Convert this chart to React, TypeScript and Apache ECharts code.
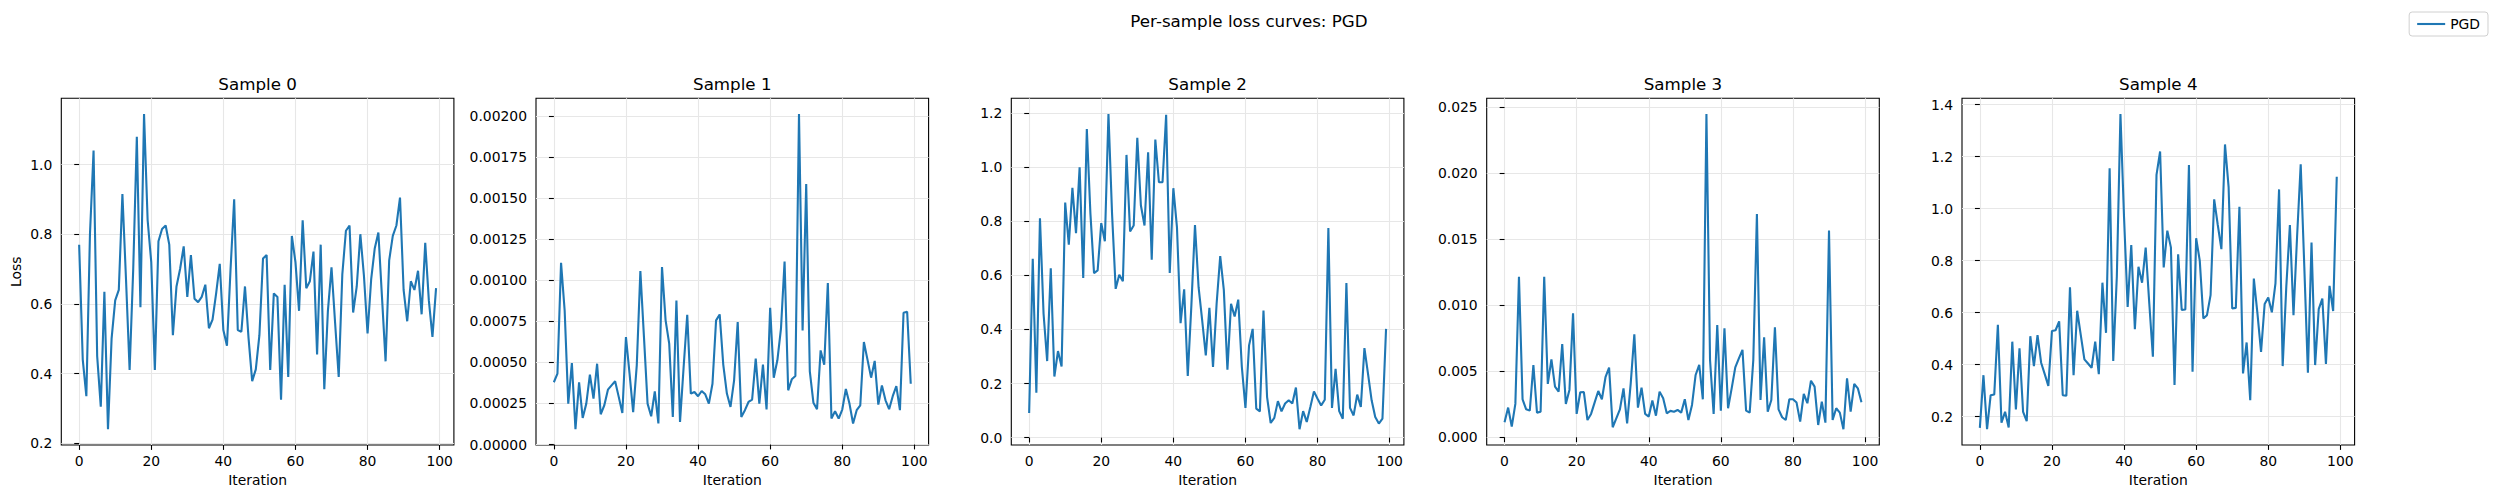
import React, { useEffect, useRef } from 'react';
import * as echarts from 'echarts';

const suptitle = 'Per-sample loss curves: PGD';
const panelTitles = ['Sample 0', 'Sample 1', 'Sample 2', 'Sample 3', 'Sample 4'];
const seriesName = 'PGD';
const xLabel = 'Iteration';
const yLabel = 'Loss';

const iterations: number[] = Array.from({ length: 100 }, (_, i) => i);
const xTicks = [0, 20, 40, 60, 80, 100];

const sample0 = [
  0.77, 0.44, 0.335, 0.80, 1.04, 0.45, 0.305, 0.635, 0.24, 0.50,
  0.61, 0.64, 0.915, 0.67, 0.41, 0.70, 1.08, 0.59, 1.145, 0.84,
  0.72, 0.41, 0.78, 0.815, 0.825, 0.77, 0.51, 0.65, 0.70, 0.765,
  0.62, 0.74, 0.615, 0.605, 0.62, 0.655, 0.53, 0.555, 0.63, 0.715,
  0.525, 0.48, 0.70, 0.90, 0.525, 0.52, 0.65, 0.50, 0.378, 0.412,
  0.51, 0.73, 0.74, 0.41, 0.63, 0.62, 0.325, 0.655, 0.39, 0.795,
  0.72, 0.58, 0.84, 0.645, 0.665, 0.75, 0.455, 0.77, 0.355, 0.58,
  0.705, 0.545, 0.39, 0.685, 0.81, 0.825, 0.575, 0.65, 0.80, 0.68,
  0.515, 0.67, 0.76, 0.805, 0.62, 0.435, 0.725, 0.795, 0.825, 0.905,
  0.64, 0.55, 0.665, 0.64, 0.695, 0.57, 0.775, 0.61, 0.505, 0.645,
];

const sample1 = [
  0.000379, 0.000432, 0.001106, 0.000816, 0.000249, 0.000496, 0.000093, 0.000379, 0.000162, 0.000249,
  0.000425, 0.00028, 0.000492, 0.000184, 0.000239, 0.000334, 0.00036, 0.000385, 0.00029, 0.000192,
  0.000654, 0.000432, 0.000197, 0.000482, 0.001056, 0.000654, 0.000249, 0.000172, 0.000324, 0.000128,
  0.00108, 0.000756, 0.000614, 0.000168, 0.000877, 0.000138, 0.000472, 0.00079, 0.00031, 0.00032,
  0.000294, 0.000326, 0.000306, 0.000249, 0.00037, 0.000756, 0.000792, 0.000485, 0.00031, 0.000229,
  0.000391, 0.000746, 0.000168, 0.000209, 0.000259, 0.000274, 0.000523, 0.000249, 0.000486, 0.000213,
  0.000833, 0.000407, 0.000513, 0.000705, 0.001114, 0.00033, 0.000397, 0.000417, 0.002012, 0.000695,
  0.001586, 0.000446, 0.000255, 0.000215, 0.000573, 0.000486, 0.000983, 0.000158, 0.000203, 0.000158,
  0.000213, 0.000338, 0.000249, 0.000128, 0.000209, 0.000239, 0.000624, 0.000517, 0.000407, 0.000509,
  0.000243, 0.00036, 0.000269, 0.000215, 0.000294, 0.000355, 0.000209, 0.000802, 0.000808, 0.00037,
];

const sample2 = [
  0.091, 0.661, 0.166, 0.811, 0.458, 0.283, 0.626, 0.226, 0.32, 0.263,
  0.869, 0.713, 0.923, 0.756, 0.999, 0.59, 1.141, 0.827, 0.608, 0.618,
  0.793, 0.726, 1.196, 0.827, 0.55, 0.602, 0.578, 1.045, 0.762, 0.784,
  1.108, 0.858, 0.784, 1.055, 0.658, 1.102, 0.944, 0.944, 1.193, 0.609,
  0.922, 0.778, 0.423, 0.548, 0.228, 0.489, 0.786, 0.556, 0.433, 0.304,
  0.48, 0.261, 0.495, 0.671, 0.546, 0.251, 0.495, 0.448, 0.51, 0.261,
  0.11, 0.341, 0.402, 0.107, 0.097, 0.47, 0.15, 0.054, 0.073, 0.135,
  0.097, 0.126, 0.138, 0.126, 0.185, 0.031, 0.098, 0.058, 0.113, 0.171,
  0.144, 0.119, 0.14, 0.775, 0.11, 0.254, 0.098, 0.07, 0.571, 0.11,
  0.082, 0.159, 0.113, 0.331, 0.236, 0.138, 0.076, 0.052, 0.07, 0.402,
];

const sample3 = [
  0.00114, 0.00225, 0.00081, 0.00253, 0.01217, 0.00288, 0.00212, 0.00202, 0.00548, 0.00187,
  0.00194, 0.01217, 0.00404, 0.00591, 0.00384, 0.00346, 0.00707, 0.00253, 0.00359, 0.00939,
  0.00177, 0.00341, 0.00343, 0.00131, 0.00177, 0.00265, 0.00351, 0.00288, 0.00455, 0.00528,
  0.00076, 0.00144, 0.00212, 0.00371, 0.00106, 0.00409, 0.0078, 0.00225, 0.00376, 0.00177,
  0.00157, 0.00278, 0.00164, 0.00346, 0.00295, 0.00182, 0.002, 0.00194, 0.00207, 0.00187,
  0.00288, 0.00131, 0.00245, 0.00472, 0.00548, 0.00288, 0.02449, 0.00586, 0.00177, 0.00851,
  0.00202, 0.00826, 0.0022, 0.00371, 0.0053, 0.00598, 0.00662, 0.00202, 0.00187, 0.00586,
  0.01692, 0.00283, 0.00758, 0.00194, 0.00283, 0.00833, 0.00212, 0.00152, 0.00131, 0.00288,
  0.00288, 0.00263, 0.00119, 0.00328, 0.00258, 0.00429, 0.00384, 0.00093, 0.0027, 0.00111,
  0.01566, 0.00131, 0.0022, 0.00187, 0.00061, 0.00447, 0.00194, 0.00404, 0.00371, 0.00265,
];

const sample4 = [
  0.156, 0.359, 0.151, 0.282, 0.285, 0.553, 0.176, 0.218, 0.158, 0.488,
  0.227, 0.462, 0.218, 0.182, 0.509, 0.394, 0.513, 0.407, 0.363, 0.318,
  0.529, 0.532, 0.566, 0.282, 0.28, 0.697, 0.359, 0.607, 0.513, 0.42,
  0.404, 0.387, 0.488, 0.363, 0.715, 0.522, 1.155, 0.414, 0.74, 1.364,
  0.966, 0.622, 0.86, 0.536, 0.776, 0.715, 0.85, 0.635, 0.43, 1.13,
  1.22, 0.774, 0.915, 0.851, 0.321, 0.824, 0.61, 0.612, 1.168, 0.372,
  0.886, 0.8, 0.577, 0.59, 0.667, 1.036, 0.937, 0.844, 1.247, 1.084,
  0.616, 0.618, 1.007, 0.366, 0.485, 0.263, 0.731, 0.597, 0.449, 0.633,
  0.658, 0.601, 0.712, 1.074, 0.394, 0.699, 0.937, 0.59, 0.894, 1.171,
  0.776, 0.369, 0.87, 0.398, 0.613, 0.654, 0.402, 0.703, 0.606, 1.123,
];

const yTicks0 = [0.2, 0.4, 0.6, 0.8, 1.0];
const yTicks1 = [0, 0.00025, 0.0005, 0.00075, 0.001, 0.00125, 0.0015, 0.00175, 0.002];
const yTicks2 = [0, 0.2, 0.4, 0.6, 0.8, 1.0, 1.2];
const yTicks3 = [0, 0.005, 0.01, 0.015, 0.02, 0.025];
const yTicks4 = [0.2, 0.4, 0.6, 0.8, 1.0, 1.2, 1.4];
const yDecimals = [1, 5, 1, 3, 1];

const samples = [sample0, sample1, sample2, sample3, sample4];
const yTicksAll = [yTicks0, yTicks1, yTicks2, yTicks3, yTicks4];

const FONT = 'DejaVu Sans';
const LINE_COLOR = '#1f77b4';
const GRID_LEFTS = [61.3, 536, 1011.3, 1486.7, 1962];
const GRID_W = 392.6;
const GRID_TOP = 98.3;
const GRID_H = 346.7;

export default function App() {
  const ref = useRef<HTMLDivElement>(null);

  useEffect(() => {
    document.body.style.margin = '0';
    if (!ref.current) return;
    const chart = echarts.init(ref.current, undefined, { renderer: 'svg' });

    const grids: any[] = [];
    const xAxes: any[] = [];
    const yAxes: any[] = [];
    const series: any[] = [];
    const graphics: any[] = [];

    graphics.push({
      type: 'text',
      x: 1249,
      y: 21,
      style: {
        text: suptitle,
        fontSize: 16.7,
        fontFamily: FONT,
        fill: '#000',
        align: 'center',
        verticalAlign: 'middle',
      },
    });

    samples.forEach((vals, k) => {
      const dmin = Math.min(...vals);
      const dmax = Math.max(...vals);
      const pad = (dmax - dmin) * 0.05;
      grids.push({
        left: GRID_LEFTS[k],
        top: GRID_TOP,
        width: GRID_W,
        height: GRID_H,
        show: true,
        borderColor: '#000',
        borderWidth: 1.1,
        backgroundColor: 'transparent',
        containLabel: false,
      });
      xAxes.push({
        type: 'value',
        gridIndex: k,
        min: -4.95,
        max: 103.95,
        name: xLabel,
        nameLocation: 'middle',
        nameGap: 28,
        nameTextStyle: { fontSize: 13.9, fontFamily: FONT, color: '#000' },
        axisLine: { show: false },
        axisTick: {
          show: true,
          length: 4.9,
          customValues: xTicks,
          lineStyle: { color: '#000', width: 1.1 },
        },
        axisLabel: {
          customValues: xTicks,
          margin: 9,
          fontSize: 13.9,
          fontFamily: FONT,
          color: '#000',
          formatter: (v: number) => String(Math.round(v)),
        },
        splitLine: { show: true, lineStyle: { color: '#e7e7e7', width: 1.1 } },
      });
      const ticks = yTicksAll[k];
      const dec = yDecimals[k];
      yAxes.push({
        type: 'value',
        gridIndex: k,
        min: dmin - pad,
        max: dmax + pad,
        name: k === 0 ? yLabel : '',
        nameLocation: 'middle',
        nameGap: 38,
        nameRotate: 90,
        nameTextStyle: { fontSize: 13.9, fontFamily: FONT, color: '#000' },
        axisLine: { show: false },
        axisTick: {
          show: true,
          length: 4.9,
          customValues: ticks,
          lineStyle: { color: '#000', width: 1.1 },
        },
        axisLabel: {
          customValues: ticks,
          margin: 9,
          fontSize: 13.9,
          fontFamily: FONT,
          color: '#000',
          formatter: (v: number) => v.toFixed(dec),
        },
        splitLine: { show: true, lineStyle: { color: '#e7e7e7', width: 1.1 } },
      });
      series.push({
        type: 'line',
        name: seriesName,
        xAxisIndex: k,
        yAxisIndex: k,
        data: iterations.map((it, i) => [it, vals[i]]),
        symbol: 'none',
        showSymbol: false,
        lineStyle: { color: LINE_COLOR, width: 2.1 },
        itemStyle: { color: LINE_COLOR },
        z: 3,
      });
      graphics.push({
        type: 'text',
        x: GRID_LEFTS[k] + GRID_W / 2,
        y: 84,
        style: {
          text: panelTitles[k],
          fontSize: 16.7,
          fontFamily: FONT,
          fill: '#000',
          align: 'center',
          verticalAlign: 'middle',
        },
      });
    });

    chart.setOption({
      animation: false,
      backgroundColor: '#fff',
      textStyle: { fontFamily: FONT },
      grid: grids,
      xAxis: xAxes,
      yAxis: yAxes,
      series,
      graphic: graphics,
      legend: {
        data: [{ name: seriesName, icon: 'rect' }],
        right: 10,
        top: 12,
        padding: [5, 8, 5, 8],
        itemWidth: 28,
        itemHeight: 2.1,
        itemGap: 8,
        borderColor: '#d0d0d0',
        borderWidth: 1,
        borderRadius: 3,
        backgroundColor: '#fff',
        itemStyle: { color: LINE_COLOR, borderWidth: 0 },
        lineStyle: { width: 0 },
        textStyle: { fontSize: 13.9, fontFamily: FONT, color: '#000' },
      },
    });

    return () => chart.dispose();
  }, []);

  return <div ref={ref} style={{ width: 2498, height: 498 }} />;
}
